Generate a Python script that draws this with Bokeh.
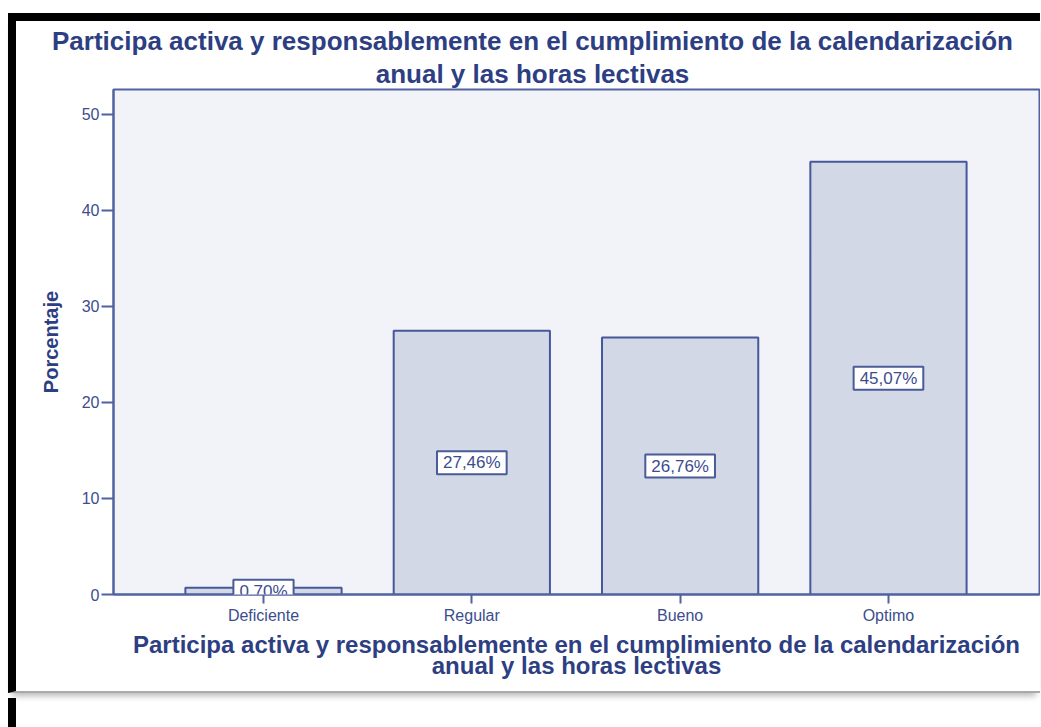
from bokeh.plotting import figure
from bokeh.layouts import column
from bokeh.models import Range1d, FixedTicker, Label, ColumnDataSource, Title, Div
from bokeh.embed import file_html
from bokeh.resources import INLINE

# ---- data ----
categories = ["Deficiente", "Regular", "Bueno", "Optimo"]
percentages = [0.70, 27.46, 26.76, 45.07]
y_ticks = [0, 10, 20, 30, 40, 50]
title_lines = ["Participa activa y responsablemente en el cumplimiento de la calendarización",
               "anual y las horas lectivas"]
y_label = "Porcentaje"

# ---- styles ----
TXT = "#2d3e82"
TICK = "#3c4d8e"
FRAME = "#5062a0"
BG = "#f2f3f8"
BAR_FILL = "#d2d8e6"
BAR_LINE = "#46579a"
FONT = "Liberation Sans"
TITLE_SIZE = 26

# Arial/Liberation Sans Bold advance widths (per 1000 em) for centring titles
BOLD_W = {"P": 667, "a": 556, "r": 389, "t": 333, "i": 278, "c": 556, "p": 611, " ": 278,
          "v": 556, "y": 556, "e": 556, "s": 556, "o": 611, "n": 611, "b": 611, "l": 278,
          "m": 889, "u": 611, "d": 611, "z": 500, "ó": 611, "h": 611}


def text_width(s, size):
    return sum(BOLD_W.get(ch, 556) for ch in s) / 1000 * size


xs = list(range(1, len(categories) + 1))
src = ColumnDataSource(dict(x=xs, top=percentages))

W, H = 1032, 680
FL, FT, FR, FB = 97, 68, 1023, 573   # frame edges in canvas px
p = figure(width=W, height=H, output_backend="svg", toolbar_location=None,
           x_range=Range1d(0.28, 4.725), y_range=Range1d(0, 52.6),
           min_border_left=FL, min_border_right=W - FR, min_border_top=FT,
           min_border_bottom=H - FB)
p.styles = {"margin-left": "8px", "margin-top": "13px",
            "border-top": "8px solid black", "border-left": "8px solid black",
            "border-bottom": "2px solid #a9a9a9",
            "box-shadow": "0 7px 6px -4px rgba(0,0,0,0.28)"}
p.background_fill_color = BG
p.border_fill_color = "white"
p.outline_line_color = FRAME
p.outline_line_width = 2
p.grid.visible = False

p.vbar(x="x", top="top", width=0.75, bottom=0, source=src,
       fill_color=BAR_FILL, line_color=BAR_LINE, line_width=2)

for xv, v in zip(xs, percentages):
    p.add_layout(Label(x=xv, y=v / 2, text=f"{v:.2f}%".replace(".", ","),
                       text_align="center", text_baseline="middle",
                       text_font=FONT, text_font_size="17px", text_color=TICK,
                       background_fill_color="white", border_line_color="#4a5b98",
                       border_line_width=2,
                       padding=dict(left=6, right=6, top=2, bottom=2)))

# axes
xa = p.xaxis[0]
xa.ticker = FixedTicker(ticks=xs)
xa.major_label_overrides = {xv: c for xv, c in zip(xs, categories)}
xa.major_tick_out = 9
xa.major_tick_in = 0
xa.minor_tick_line_color = None
xa.axis_line_color = FRAME
xa.axis_line_width = 2
xa.major_tick_line_color = FRAME
xa.major_tick_line_width = 2
xa.major_label_text_font = FONT
xa.major_label_text_font_size = "16px"
xa.major_label_text_color = TICK
xa.major_label_standoff = 3
xa.axis_label = "\n".join(title_lines)
xa.axis_label_text_font = FONT
xa.axis_label_text_font_style = "bold"
xa.axis_label_text_font_size = "24px"
xa.axis_label_text_color = TXT
xa.axis_label_text_line_height = 0.8
xa.axis_label_standoff = 4

ya = p.yaxis[0]
ya.ticker = FixedTicker(ticks=y_ticks)
ya.major_tick_out = 12
ya.major_tick_in = 0
ya.minor_tick_line_color = None
ya.axis_line_color = FRAME
ya.axis_line_width = 2
ya.major_tick_line_color = FRAME
ya.major_tick_line_width = 2
ya.major_label_text_font = FONT
ya.major_label_text_font_size = "16px"
ya.major_label_text_color = TICK
ya.major_label_standoff = 2
ya.axis_label = y_label
ya.axis_label_text_font = FONT
ya.axis_label_text_font_style = "bold"
ya.axis_label_text_font_size = "20px"
ya.axis_label_text_color = TXT
ya.axis_label_standoff = 17

# top title: two lines centred at canvas x = 516 (frame-relative offsets)
TITLE_CX = 516 - FL
for i, line in reversed(list(enumerate(title_lines))):
    off = TITLE_CX - text_width(line, TITLE_SIZE) / 2
    p.add_layout(Title(text=line, align="left", offset=off, standoff=2 if i == 1 else 0,
                       text_font=FONT, text_font_style="bold",
                       text_font_size=f"{TITLE_SIZE}px", text_color=TXT,
                       text_line_height=0.8), "above")

# lower strip of the page (black left band continues below the chart)
strip = Div(text="", width=W, height=34,
            styles={"margin-left": "8px", "border-left": "8px solid black"})

root = column(p, strip, spacing=0)
open("out.html", "w").write(file_html(root, INLINE))
